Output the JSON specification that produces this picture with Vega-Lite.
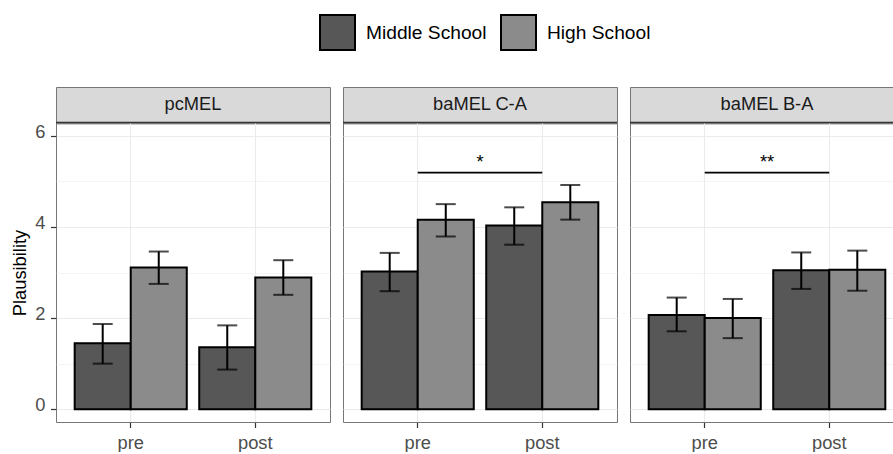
{
  "$schema": "https://vega.github.io/schema/vega-lite/v6.json",
  "padding": {"left": 10, "top": 14, "right": 0, "bottom": 0},
  "config": {
    "font": "Liberation Sans",
    "view": {"stroke": "#777777", "strokeWidth": 1},
    "axis": {
      "labelFontSize": 18.3, "labelColor": "#4d4d4d", "labelFont": "Liberation Sans",
      "titleFontSize": 18.3, "titleFontWeight": "normal", "titleColor": "#000000", "titleFont": "Liberation Sans",
      "tickColor": "#333333", "tickSize": 5.5, "tickWidth": 1.2,
      "domain": false, "gridColor": "#ebebeb", "gridWidth": 1.1, "labelPadding": 5
    },
    "legend": {"labelFont": "Liberation Sans"}
  },
  "datasets": {
    "bars": [
      {"panel": "pcMEL", "time": "pre", "group": "Middle School", "mean": 1.45, "lo": 1.0, "hi": 1.87},
      {"panel": "pcMEL", "time": "pre", "group": "High School", "mean": 3.11, "lo": 2.75, "hi": 3.46},
      {"panel": "pcMEL", "time": "post", "group": "Middle School", "mean": 1.36, "lo": 0.87, "hi": 1.84},
      {"panel": "pcMEL", "time": "post", "group": "High School", "mean": 2.89, "lo": 2.51, "hi": 3.27},
      {"panel": "baMEL C-A", "time": "pre", "group": "Middle School", "mean": 3.02, "lo": 2.59, "hi": 3.43},
      {"panel": "baMEL C-A", "time": "pre", "group": "High School", "mean": 4.16, "lo": 3.79, "hi": 4.5},
      {"panel": "baMEL C-A", "time": "post", "group": "Middle School", "mean": 4.03, "lo": 3.61, "hi": 4.43},
      {"panel": "baMEL C-A", "time": "post", "group": "High School", "mean": 4.54, "lo": 4.16, "hi": 4.92},
      {"panel": "baMEL B-A", "time": "pre", "group": "Middle School", "mean": 2.07, "lo": 1.71, "hi": 2.45},
      {"panel": "baMEL B-A", "time": "pre", "group": "High School", "mean": 2.0, "lo": 1.56, "hi": 2.42},
      {"panel": "baMEL B-A", "time": "post", "group": "Middle School", "mean": 3.05, "lo": 2.64, "hi": 3.44},
      {"panel": "baMEL B-A", "time": "post", "group": "High School", "mean": 3.06, "lo": 2.6, "hi": 3.48}
    ],
    "sig": [
      {"panel": "baMEL C-A", "x1": "pre", "x2": "post", "y": 5.19, "ty": 5.4, "label": "*"},
      {"panel": "baMEL B-A", "x1": "pre", "x2": "post", "y": 5.19, "ty": 5.4, "label": "**"}
    ],
    "strips": [
      {"panel": "pcMEL"}, {"panel": "baMEL C-A"}, {"panel": "baMEL B-A"}
    ]
  },
  "resolve": {"scale": {"color": "shared"}, "legend": {"color": "shared"}},
  "spacing": 9,
  "hconcat": [
    {
      "spacing": 0,
      "bounds": "flush",
      "vconcat": [
        {
          "width": 274, "height": 36,
          "data": {"name": "strips"},
          "transform": [{"filter": "datum.panel === 'pcMEL'"}],
          "view": {"fill": "#d9d9d9", "stroke": "#777777"},
          "layer": [
            {"mark": {"type": "text", "fontSize": 18.3, "color": "#1a1a1a"}, "encoding": {"text": {"field": "panel"}}},
            {"mark": {"type": "rule", "color": "#333333", "strokeWidth": 2.5}, "encoding": {"y": {"datum": 0, "type": "quantitative", "scale": {"domain": [0, 1]}, "axis": null}}}
          ]
        },
        {
          "width": 274, "height": 299,
          "data": {"name": "bars"},
          "transform": [{"filter": "datum.panel === 'pcMEL'"}],
          "layer": [
            {
              "mark": {"type": "bar", "stroke": "black", "strokeWidth": 2},
              "encoding": {
                "x": {"field": "time", "type": "nominal", "title": null, "scale": {"domain": ["pre", "post"], "paddingInner": 0.1, "paddingOuter": 0.15}, "axis": {"labelAngle": 0, "grid": true, "labelPadding": 6.5}},
                "xOffset": {"field": "group", "type": "nominal", "scale": {"domain": ["Middle School", "High School"], "paddingInner": 0, "paddingOuter": 0}},
                "y": {"field": "mean", "type": "quantitative", "title": "Plausibility", "scale": {"domain": [-0.28, 6.28], "nice": false, "zero": false},
                  "axis": {"values": [0, 1, 2, 3, 4, 5, 6], "labelExpr": "datum.value % 2 === 0 ? datum.label : ''",
                    "labelBaseline": "alphabetic", "labelOffset": 1.5, "labelPadding": 5.5,
                    "tickOpacity": {"condition": {"test": "datum.value % 2 === 0", "value": 1}, "value": 0},
                    "gridWidth": {"condition": {"test": "datum.value % 2 === 0", "value": 1.1}, "value": 0.55},
                    "titlePadding": 5}},
                "y2": {"datum": 0},
                "color": {"field": "group", "type": "nominal", "scale": {"domain": ["Middle School", "High School"], "range": ["#575757", "#8b8b8b"]},
                  "legend": {"orient": "none", "legendX": 263, "legendY": -73, "direction": "horizontal", "title": null,
                    "symbolType": "square", "symbolSize": 1225, "symbolStrokeColor": "black", "symbolStrokeWidth": 2,
                    "labelFontSize": 19.2, "labelColor": "#000000", "labelOffset": 10, "columnPadding": 10}}
              }
            },
            {
              "mark": {"type": "rule", "color": "black", "strokeWidth": 2},
              "encoding": {
                "x": {"field": "time", "type": "nominal", "title": null},
                "xOffset": {"field": "group", "type": "nominal"},
                "y": {"field": "lo", "type": "quantitative", "title": "Plausibility"},
                "y2": {"field": "hi"}
              }
            },
            {
              "mark": {"type": "tick", "color": "black", "thickness": 2, "size": 20, "orient": "horizontal"},
              "encoding": {
                "x": {"field": "time", "type": "nominal", "title": null},
                "xOffset": {"field": "group", "type": "nominal"},
                "y": {"field": "lo", "type": "quantitative", "title": "Plausibility"}
              }
            },
            {
              "mark": {"type": "tick", "color": "black", "thickness": 2, "size": 20, "orient": "horizontal"},
              "encoding": {
                "x": {"field": "time", "type": "nominal", "title": null},
                "xOffset": {"field": "group", "type": "nominal"},
                "y": {"field": "hi", "type": "quantitative", "title": "Plausibility"}
              }
            }
          ]
        }
      ]
    },
    {
      "spacing": 0,
      "bounds": "flush",
      "vconcat": [
        {
          "width": 274, "height": 36,
          "data": {"name": "strips"},
          "transform": [{"filter": "datum.panel === 'baMEL C-A'"}],
          "view": {"fill": "#d9d9d9", "stroke": "#777777"},
          "layer": [
            {"mark": {"type": "text", "fontSize": 18.3, "color": "#1a1a1a"}, "encoding": {"text": {"field": "panel"}}},
            {"mark": {"type": "rule", "color": "#333333", "strokeWidth": 2.5}, "encoding": {"y": {"datum": 0, "type": "quantitative", "scale": {"domain": [0, 1]}, "axis": null}}}
          ]
        },
        {
          "width": 274, "height": 299,
          "layer": [
            {
              "data": {"name": "bars"},
              "transform": [{"filter": "datum.panel === 'baMEL C-A'"}],
              "mark": {"type": "bar", "stroke": "black", "strokeWidth": 2},
              "encoding": {
                "x": {"field": "time", "type": "nominal", "title": null, "scale": {"domain": ["pre", "post"], "paddingInner": 0.1, "paddingOuter": 0.15}, "axis": {"labelAngle": 0, "grid": true, "labelPadding": 6.5}},
                "xOffset": {"field": "group", "type": "nominal", "scale": {"domain": ["Middle School", "High School"], "paddingInner": 0, "paddingOuter": 0}},
                "y": {"field": "mean", "type": "quantitative", "title": null, "scale": {"domain": [-0.28, 6.28], "nice": false, "zero": false},
                  "axis": {"values": [0, 1, 2, 3, 4, 5, 6], "labels": false, "ticks": false,
                    "gridWidth": {"condition": {"test": "datum.value % 2 === 0", "value": 1.1}, "value": 0.55}}},
                "y2": {"datum": 0},
                "color": {"field": "group", "type": "nominal", "scale": {"domain": ["Middle School", "High School"], "range": ["#575757", "#8b8b8b"]}}
              }
            },
            {
              "data": {"name": "bars"},
              "transform": [{"filter": "datum.panel === 'baMEL C-A'"}],
              "mark": {"type": "rule", "color": "black", "strokeWidth": 2},
              "encoding": {
                "x": {"field": "time", "type": "nominal", "title": null},
                "xOffset": {"field": "group", "type": "nominal"},
                "y": {"field": "lo", "type": "quantitative", "title": null},
                "y2": {"field": "hi"}
              }
            },
            {
              "data": {"name": "bars"},
              "transform": [{"filter": "datum.panel === 'baMEL C-A'"}],
              "mark": {"type": "tick", "color": "black", "thickness": 2, "size": 20, "orient": "horizontal"},
              "encoding": {
                "x": {"field": "time", "type": "nominal", "title": null},
                "xOffset": {"field": "group", "type": "nominal"},
                "y": {"field": "lo", "type": "quantitative", "title": null}
              }
            },
            {
              "data": {"name": "bars"},
              "transform": [{"filter": "datum.panel === 'baMEL C-A'"}],
              "mark": {"type": "tick", "color": "black", "thickness": 2, "size": 20, "orient": "horizontal"},
              "encoding": {
                "x": {"field": "time", "type": "nominal", "title": null},
                "xOffset": {"field": "group", "type": "nominal"},
                "y": {"field": "hi", "type": "quantitative", "title": null}
              }
            },
            {
              "data": {"name": "sig"},
              "transform": [{"filter": "datum.panel === 'baMEL C-A'"}],
              "mark": {"type": "rule", "color": "black", "strokeWidth": 1.8},
              "encoding": {
                "x": {"field": "x1", "type": "nominal", "title": null, "bandPosition": 0.5},
                "x2": {"field": "x2"},
                "y": {"field": "y", "type": "quantitative", "title": null}
              }
            },
            {
              "data": {"name": "sig"},
              "transform": [{"filter": "datum.panel === 'baMEL C-A'"}],
              "mark": {"type": "text", "fontSize": 18.3, "color": "black", "baseline": "middle"},
              "encoding": {
                "y": {"field": "ty", "type": "quantitative", "title": null},
                "text": {"field": "label"}
              }
            }
          ]
        }
      ]
    },
    {
      "spacing": 0,
      "bounds": "flush",
      "vconcat": [
        {
          "width": 274, "height": 36,
          "data": {"name": "strips"},
          "transform": [{"filter": "datum.panel === 'baMEL B-A'"}],
          "view": {"fill": "#d9d9d9", "stroke": "#777777"},
          "layer": [
            {"mark": {"type": "text", "fontSize": 18.3, "color": "#1a1a1a"}, "encoding": {"text": {"field": "panel"}}},
            {"mark": {"type": "rule", "color": "#333333", "strokeWidth": 2.5}, "encoding": {"y": {"datum": 0, "type": "quantitative", "scale": {"domain": [0, 1]}, "axis": null}}}
          ]
        },
        {
          "width": 274, "height": 299,
          "layer": [
            {
              "data": {"name": "bars"},
              "transform": [{"filter": "datum.panel === 'baMEL B-A'"}],
              "mark": {"type": "bar", "stroke": "black", "strokeWidth": 2},
              "encoding": {
                "x": {"field": "time", "type": "nominal", "title": null, "scale": {"domain": ["pre", "post"], "paddingInner": 0.1, "paddingOuter": 0.15}, "axis": {"labelAngle": 0, "grid": true, "labelPadding": 6.5}},
                "xOffset": {"field": "group", "type": "nominal", "scale": {"domain": ["Middle School", "High School"], "paddingInner": 0, "paddingOuter": 0}},
                "y": {"field": "mean", "type": "quantitative", "title": null, "scale": {"domain": [-0.28, 6.28], "nice": false, "zero": false},
                  "axis": {"values": [0, 1, 2, 3, 4, 5, 6], "labels": false, "ticks": false,
                    "gridWidth": {"condition": {"test": "datum.value % 2 === 0", "value": 1.1}, "value": 0.55}}},
                "y2": {"datum": 0},
                "color": {"field": "group", "type": "nominal", "scale": {"domain": ["Middle School", "High School"], "range": ["#575757", "#8b8b8b"]}}
              }
            },
            {
              "data": {"name": "bars"},
              "transform": [{"filter": "datum.panel === 'baMEL B-A'"}],
              "mark": {"type": "rule", "color": "black", "strokeWidth": 2},
              "encoding": {
                "x": {"field": "time", "type": "nominal", "title": null},
                "xOffset": {"field": "group", "type": "nominal"},
                "y": {"field": "lo", "type": "quantitative", "title": null},
                "y2": {"field": "hi"}
              }
            },
            {
              "data": {"name": "bars"},
              "transform": [{"filter": "datum.panel === 'baMEL B-A'"}],
              "mark": {"type": "tick", "color": "black", "thickness": 2, "size": 20, "orient": "horizontal"},
              "encoding": {
                "x": {"field": "time", "type": "nominal", "title": null},
                "xOffset": {"field": "group", "type": "nominal"},
                "y": {"field": "lo", "type": "quantitative", "title": null}
              }
            },
            {
              "data": {"name": "bars"},
              "transform": [{"filter": "datum.panel === 'baMEL B-A'"}],
              "mark": {"type": "tick", "color": "black", "thickness": 2, "size": 20, "orient": "horizontal"},
              "encoding": {
                "x": {"field": "time", "type": "nominal", "title": null},
                "xOffset": {"field": "group", "type": "nominal"},
                "y": {"field": "hi", "type": "quantitative", "title": null}
              }
            },
            {
              "data": {"name": "sig"},
              "transform": [{"filter": "datum.panel === 'baMEL B-A'"}],
              "mark": {"type": "rule", "color": "black", "strokeWidth": 1.8},
              "encoding": {
                "x": {"field": "x1", "type": "nominal", "title": null, "bandPosition": 0.5},
                "x2": {"field": "x2"},
                "y": {"field": "y", "type": "quantitative", "title": null}
              }
            },
            {
              "data": {"name": "sig"},
              "transform": [{"filter": "datum.panel === 'baMEL B-A'"}],
              "mark": {"type": "text", "fontSize": 18.3, "color": "black", "baseline": "middle"},
              "encoding": {
                "y": {"field": "ty", "type": "quantitative", "title": null},
                "text": {"field": "label"}
              }
            }
          ]
        }
      ]
    }
  ]
}
